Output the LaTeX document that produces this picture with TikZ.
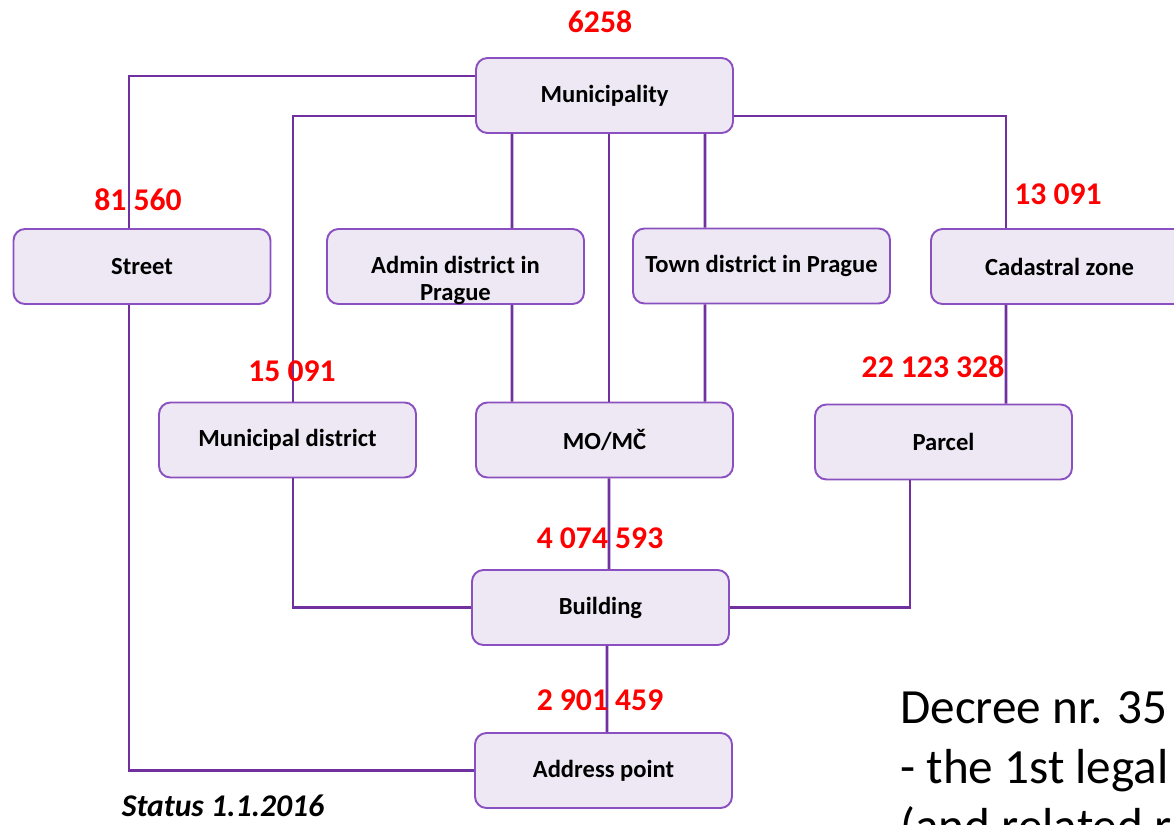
\documentclass[tikz,border=0pt]{standalone}
\usepackage{fontspec}
\setmainfont{Carlito}
\usepackage{xcolor}
\usepackage{tikz}
\usetikzlibrary{positioning}

\definecolor{linkpurple}{HTML}{7030A0}
\definecolor{boxedge}{HTML}{8A4FC0}
\definecolor{boxfill}{HTML}{EEE8F4}

\begin{document}
\begin{tikzpicture}[
    x=0.02cm, y=-0.02cm,
    unit/.style={draw=boxedge, line width=1.1pt, fill=boxfill, rounded corners=6.5pt,
                 minimum width=5.14cm, minimum height=1.5cm, align=center,
                 font=\fontsize{14}{15.5}\selectfont\bfseries},
    link/.style={draw=linkpurple, line width=1.5pt},
    count/.style={text=red, inner sep=0pt, font=\fontsize{18}{20}\selectfont\bfseries},
    note/.style={inner sep=0pt, align=left, font=\fontsize{28}{34}\selectfont}
]
\clip (0,0) rectangle (1174,825);

% Top level
\node[unit] (muni) at (604.5, 95.5) {Municipality};

% Second row
\node[unit] (street) at (142, 266.5) {Street};
\node[unit, label={[align=center, font=\fontsize{14}{15.5}\selectfont\bfseries, yshift=-2.8mm]center:Admin district in\\Prague}]
    (admin) at (455.5, 266.5) {};
\node[unit] (town) at (761.5, 266) {Town district in Prague};
\node[unit] (cad) at (1059.5, 266.5) {Cadastral zone};

% Third row
\node[unit] (mdist) at (287.5, 440) {Municipal district};
\node[unit] (mo) at (604.5, 440) {MO/MČ};
\node[unit] (parcel) at (943.5, 442) {Parcel};

% Bottom
\node[unit] (bldg) at (600.5, 607.5) {Building};
\node[unit] (addr) at (603.5, 770.5) {Address point};

% Municipality links
\draw[link] ([xshift=-2.6mm]street.north) |- ([yshift=3.9mm]muni.west);
\draw[link] ([xshift=1.1mm]mdist.north) |- ([yshift=-4.1mm]muni.west);
\draw[link] ([xshift=-18.5mm]muni.south) -- ([xshift=11.3mm]admin.north);
\draw[link] ([xshift=0.9mm]muni.south) -- ([xshift=0.9mm]mo.north);
\draw[link] ([xshift=20.1mm]muni.south) -- ([xshift=-11.3mm]town.north);
\draw[link] ([yshift=-4.1mm]muni.east) -| ([xshift=-10.7mm]cad.north);

% Districts down to MO/MC and parcel
\draw[link] ([xshift=11.3mm]admin.south) -- ([xshift=-18.5mm]mo.north);
\draw[link] ([xshift=-11.3mm]town.south) -- ([xshift=20.1mm]mo.north);
\draw[link] ([xshift=-10.7mm]cad.south) -- ([xshift=12.5mm]parcel.north);

% Building and address point
\draw[link] ([xshift=1.1mm]mdist.south) |- (bldg.west);
\draw[link] ([xshift=-6.7mm]parcel.south) |- (bldg.east);
\draw[link] ([xshift=0.9mm]mo.south) -- ([xshift=1.7mm]bldg.north);
\draw[link] ([xshift=1.3mm]bldg.south) -- ([xshift=0.7mm]addr.north);
\draw[link] ([xshift=-2.6mm]street.south) |- (addr.west);

% Counts
\node[count] (nmuni) at (600, 22) {6258};
\node[count] (nstreet) at (138, 200) {81 560};
\node[count] (ncad) at (1058, 194) {13 091};
\node[count] (nmdist) at (292, 371) {15 091};
\node[count] (nparcel) at (933, 367) {22 123 328};
\node[count] (nbldg) at (600, 538) {4 074 593};
\node[count] (naddr) at (600, 700) {2 901 459};

% Notes
\node[inner sep=0pt, font=\fontsize{18}{20}\selectfont\bfseries\itshape] (status) at (223, 806) {Status 1.1.2016};
\node[note, anchor=north west] (decree) at (900, 691) {Decree nr. 35\\- the 1st legal\\(and related r};

\end{tikzpicture}
\end{document}
